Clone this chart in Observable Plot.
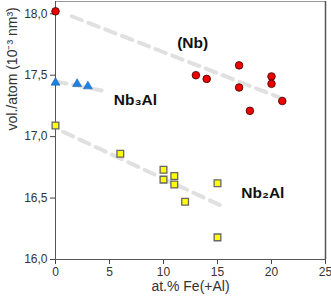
<!DOCTYPE html>
<html><head><meta charset="utf-8">
<script src="https://cdn.jsdelivr.net/npm/d3@7"></script>
<script src="https://cdn.jsdelivr.net/npm/@observablehq/plot@0.6"></script>
<style>body{margin:0;background:#fff}</style>
</head><body><div id="chart"></div>
<script>
const nbX = [0, 13, 14, 17, 17, 18, 20, 20, 21];
const nbY = [18.02, 17.50, 17.47, 17.58, 17.40, 17.21, 17.49, 17.43, 17.29];
const nb3alX = [0, 2, 3];
const nb3alY = [17.44, 17.43, 17.41];
const nb2alX = [0, 6, 10, 10, 11, 11, 12, 15, 15];
const nb2alY = [17.09, 16.86, 16.73, 16.65, 16.68, 16.61, 16.47, 16.62, 16.18];
const trendNbX = [1.5, 21], trendNbY = [17.98, 17.31];
const trendNb3AlX = [0, 4.6], trendNb3AlY = [17.45, 17.37];
const trendNb2AlX = [0.7, 15.3], trendNb2AlY = [17.04, 16.44];
const labelText = ["(Nb)", "Nb₃Al", "Nb₂Al"];
const labelX = [12.7, 7.4, 19.2];
const labelY = [17.76, 17.30, 16.54];
const xTicks = [0, 5, 10, 15, 20, 25];
const yTicks = [16, 16.5, 17, 17.5, 18];
const xTitle = "at.% Fe(+Al)";
const yTitle = "vol./atom (10⁻³ nm³)";

const pts = (xs, ys) => xs.map((x, i) => ({x, y: ys[i]}));
const trend = (xs, ys) => Plot.line(pts(xs, ys), {x: "x", y: "y", stroke: "#e0e0e0", strokeWidth: 4, strokeDasharray: "11,7"});
const labels = labelText.map((t, i) => ({t, x: labelX[i], y: labelY[i]}));

const chart = Plot.plot({
  width: 331, height: 302,
  marginLeft: 55, marginRight: 6, marginTop: 1, marginBottom: 43,
  style: {fontFamily: "'Liberation Sans', Arial, sans-serif", fontSize: "12px", color: "#333", background: "#fff"},
  x: {domain: [0, 25], label: null},
  y: {domain: [16, 18.1], label: null},
  marks: [
    trend(trendNbX, trendNbY),
    trend(trendNb3AlX, trendNb3AlY),
    trend(trendNb2AlX, trendNb2AlY),
    Plot.ruleY([18.1], {stroke: "#999", strokeWidth: 1}),
    Plot.ruleX([25], {stroke: "#555", strokeWidth: 1.5}),
    Plot.axisX({ticks: xTicks, tickSize: 5, tickPadding: 3, stroke: "#444", fill: "#333", label: null}),
    Plot.axisY({ticks: yTicks, tickSize: 5, tickPadding: 3, stroke: "#444", fill: "#333", label: null,
      tickFormat: d => d3.format(".1f")(d).replace(".", ",")}),
    Plot.ruleX([0], {stroke: "#555", strokeWidth: 1}),
    Plot.ruleY([16], {stroke: "#555", strokeWidth: 1}),
    Plot.dot(pts(nbX, nbY), {x: "x", y: "y", r: 3.8, fill: "#ee0000", stroke: "#3a0000", strokeWidth: 0.8}),
    Plot.dot(pts(nb3alX, nb3alY), {x: "x", y: "y", r: 3.3, symbol: "triangle", fill: "#1f80e0", stroke: "#1565b5", strokeWidth: 0.6}),
    Plot.dot(pts(nb2alX, nb2alY), {x: "x", y: "y", r: 3.8, symbol: "square", fill: "#ffff00", stroke: "#666", strokeWidth: 1.3}),
    Plot.text(labels, {x: "x", y: "y", text: "t", fontSize: 15.5, fontWeight: "bold", fill: "#111"}),
    Plot.text([xTitle], {frameAnchor: "bottom", dy: 31, fontSize: 14, fill: "#333"}),
    Plot.text([yTitle], {frameAnchor: "left", dx: -43, rotate: -90, fontSize: 14, fill: "#333"})
  ]
});
document.getElementById("chart").append(chart);
</script>
</body></html>
